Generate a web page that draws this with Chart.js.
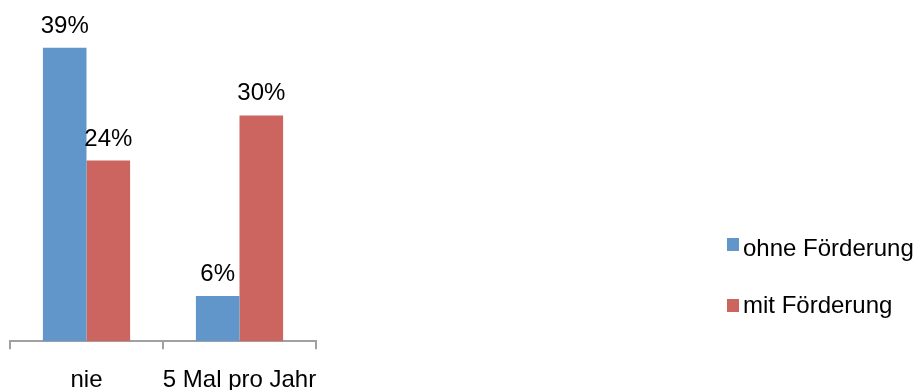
<!DOCTYPE html>
<html>
<head>
<meta charset="utf-8">
<script src="https://cdn.jsdelivr.net/npm/chart.js@4/dist/chart.umd.min.js"></script>
<style>
    html, body { margin: 0; padding: 0; background: #fff; }
    #wrap { width: 916px; height: 390px; }
</style>
</head>
<body>
<div id="wrap"><canvas id="chart" width="916" height="390"></canvas></div>
<script>
// data
var categories = ["nie", "5 Mal pro Jahr"];
var seriesNames = ["ohne Förderung", "mit Förderung"];
var ohneFoerderung = [39, 6];
var mitFoerderung = [24, 30];
var seriesColors = ["#6096c9", "#cc645f"];

var fontFamily = '"Liberation Sans", Arial, sans-serif';

// value labels above the bars
var barLabels = {
    id: "barLabels",
    afterDatasetsDraw: function(chart) {
        var ctx = chart.ctx;
        ctx.save();
        ctx.font = "24px " + fontFamily;
        ctx.fillStyle = "#000";
        ctx.textAlign = "center";
        ctx.textBaseline = "alphabetic";
        chart.data.datasets.forEach(function(ds, i) {
            chart.getDatasetMeta(i).data.forEach(function(bar, j) {
                ctx.fillText(ds.data[j] + "%", bar.x, bar.y - 15);
            });
        });
        ctx.restore();
    }
};

// legend off to the right, drawn from the datasets
var sideLegend = {
    id: "sideLegend",
    afterDraw: function(chart) {
        var ctx = chart.ctx;
        var boxY = [238, 299];
        var textY = [256, 313];
        ctx.save();
        ctx.font = "24px " + fontFamily;
        ctx.textAlign = "left";
        ctx.textBaseline = "alphabetic";
        chart.data.datasets.forEach(function(ds, i) {
            ctx.fillStyle = ds.backgroundColor;
            ctx.fillRect(727, boxY[i], 12, 13);
            ctx.fillStyle = "#000";
            ctx.fillText(ds.label, 743, textY[i]);
        });
        ctx.restore();
    }
};

var chart = new Chart(document.getElementById("chart"), {
    type: "bar",
    data: {
        labels: categories,
        datasets: [
            {
                label: seriesNames[0],
                data: ohneFoerderung,
                backgroundColor: seriesColors[0],
                categoryPercentage: 0.57,
                barPercentage: 1.0
            },
            {
                label: seriesNames[1],
                data: mitFoerderung,
                backgroundColor: seriesColors[1],
                categoryPercentage: 0.57,
                barPercentage: 1.0
            }
        ]
    },
    options: {
        responsive: false,
        devicePixelRatio: 1,
        animation: false,
        layout: {
            padding: { left: 10, right: 600, top: 10, bottom: 0 }
        },
        plugins: {
            legend: { display: false },
            tooltip: { enabled: false }
        },
        scales: {
            x: {
                // labels sit low, partly cut by the bottom edge like the original
                afterFit: function(scale) {
                    scale.height -= 22;
                },
                grid: {
                    offset: true,
                    drawOnChartArea: false,
                    drawTicks: true,
                    tickLength: 8,
                    color: "#a0a0a0",
                    lineWidth: 2
                },
                border: { color: "#a0a0a0", width: 2 },
                ticks: {
                    color: "#000",
                    padding: 17,
                    autoSkip: false,
                    maxRotation: 0,
                    minRotation: 0,
                    font: { family: fontFamily, size: 24 }
                }
            },
            y: {
                display: false,
                min: 0,
                max: 44
            }
        }
    },
    plugins: [barLabels, sideLegend]
});
</script>
</body>
</html>
